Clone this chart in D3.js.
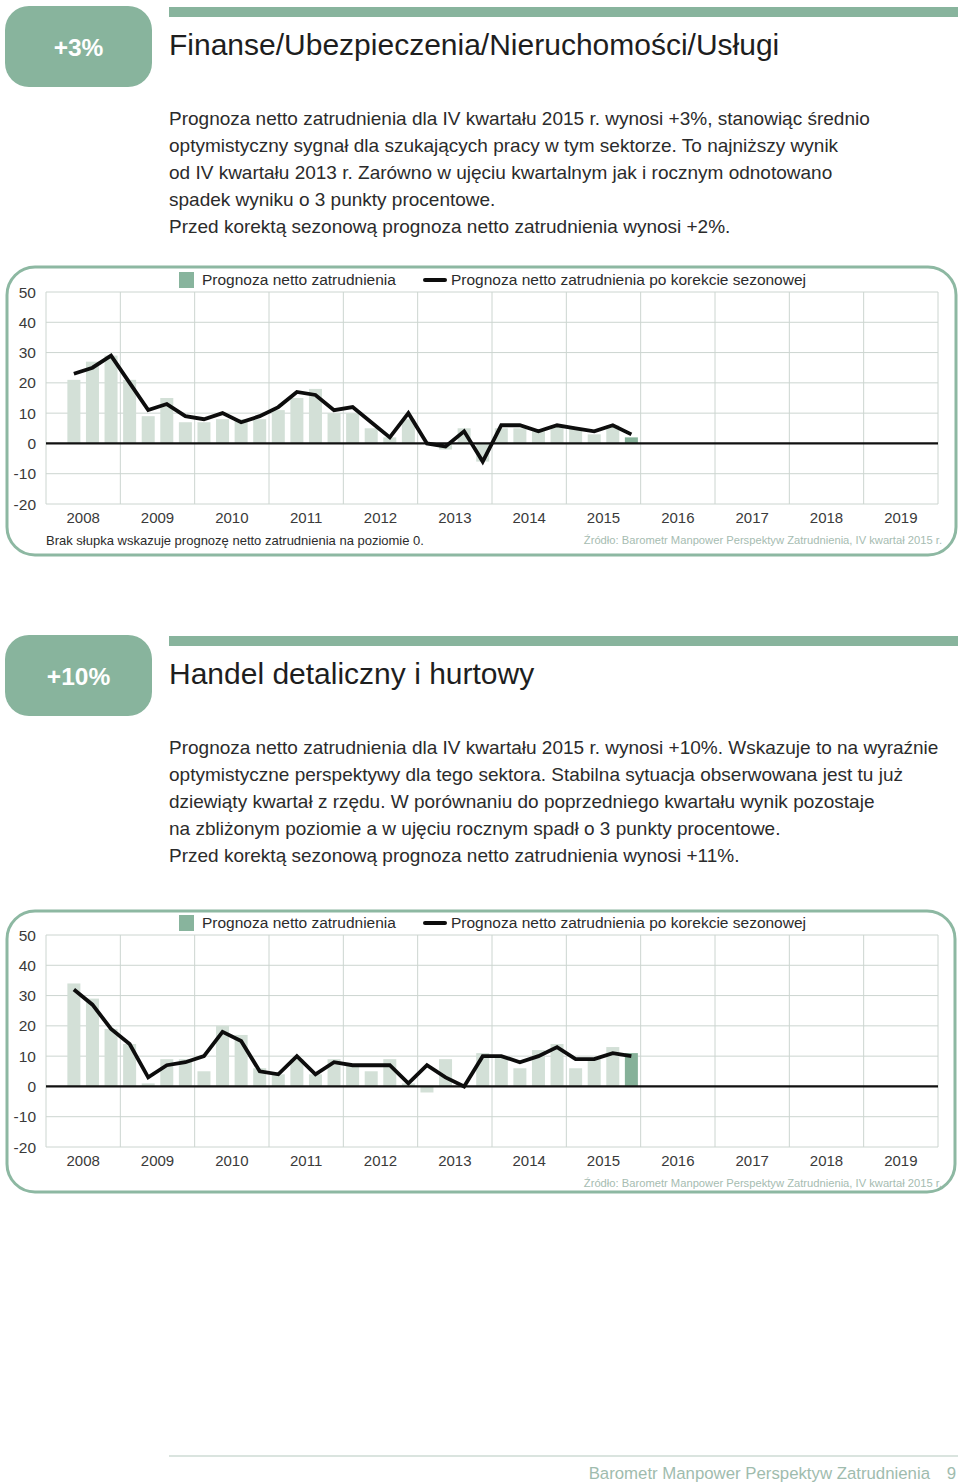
<!DOCTYPE html>
<html><head><meta charset="utf-8">
<script src="https://cdn.jsdelivr.net/npm/d3@7"></script>
<style>
body{margin:0;background:#fff;}
svg{display:block;font-family:"Liberation Sans",Arial,Helvetica,sans-serif;}
</style>
</head><body>
<svg id="page" width="960" height="1484"></svg>
<script>
// ---------- DATA ----------
const years = ["2008","2009","2010","2011","2012","2013","2014","2015","2016","2017","2018","2019"];
const quarterNames = ["I","II","III","IV"];
const firstDataQuarter = "2008-II";
const lastDataQuarter = "2015-IV";
const yTicks = [50,40,30,20,10,0,-10,-20];

// Finanse/Ubezpieczenia/Nieruchomości/Usługi (2008 II – 2015 IV)
const finBars = [21,27,29, 21,9,15,7, 7,8,8,8, 11,15,18,10, 10,5,2,8, 0,-2,5,-6, 5,5,4,6, 5,3,6,2];
const finLine = [23,25,29, 20,11,13,9, 8,10,7,9, 12,17,16,11, 12,7,2,10, 0,-1,4,-6, 6,6,4,6, 5,4,6,3];

// Handel detaliczny i hurtowy (2008 II – 2015 IV)
const tradeBars = [34,29,19, 14,1,9,9, 5,20,17,6, 4,9,4,9, 7,5,9,1, -2,9,0,11, 10,6,12,14, 6,9,13,11];
const tradeLine = [32,27,19, 14,3,7,8, 10,18,15,5, 4,10,4,8, 7,7,7,1, 7,3,0,10, 10,8,10,13, 9,9,11,10];

const legendBarLabel = "Prognoza netto zatrudnienia";
const legendLineLabel = "Prognoza netto zatrudnienia po korekcie sezonowej";
const noteText = "Brak słupka wskazuje prognozę netto zatrudnienia na poziomie 0.";
const sourceText = "Źródło: Barometr Manpower Perspektyw Zatrudnienia, IV kwartał 2015 r.";

const section1 = {
  badge: "+3%",
  title: "Finanse/Ubezpieczenia/Nieruchomości/Usługi",
  lines: [
    "Prognoza netto zatrudnienia dla IV kwartału 2015 r. wynosi +3%, stanowiąc średnio",
    "optymistyczny sygnał dla szukających pracy w tym sektorze. To najniższy wynik",
    "od IV kwartału 2013 r. Zarówno w ujęciu kwartalnym jak i rocznym odnotowano",
    "spadek wyniku o 3 punkty procentowe.",
    "Przed korektą sezonową prognoza netto zatrudnienia wynosi +2%."
  ]
};
const section2 = {
  badge: "+10%",
  title: "Handel detaliczny i hurtowy",
  lines: [
    "Prognoza netto zatrudnienia dla IV kwartału 2015 r. wynosi +10%. Wskazuje to na wyraźnie",
    "optymistyczne perspektywy dla tego sektora. Stabilna sytuacja obserwowana jest tu już",
    "dziewiąty kwartał z rzędu. W porównaniu do poprzedniego kwartału wynik pozostaje",
    "na zbliżonym poziomie a w ujęciu rocznym spadł o 3 punkty procentowe.",
    "Przed korektą sezonową prognoza netto zatrudnienia wynosi +11%."
  ]
};
const footerText = "Barometr Manpower Perspektyw Zatrudnienia";
const pageNumber = "9";

// ---------- STYLE ----------
const GREEN = "#88b49d";
const LIGHT_BAR = "#d3e0d7";
const DARK_BAR = "#86b199";
const GRID = "#ccd5d0";
const TEXT = "#2b2b2b";

const svg = d3.select("#page");

// all quarter slots 2008-I .. 2019-IV
const allQuarters = years.flatMap(y => quarterNames.map(q => y + "-" + q));
const dataQuarters = allQuarters.slice(allQuarters.indexOf(firstDataQuarter), allQuarters.indexOf(lastDataQuarter) + 1);

const plotLeft = 46, plotRight = 938;

function drawHeader(top, sec) {
  const g = svg.append("g");
  g.append("rect").attr("x", 5).attr("y", top).attr("width", 147).attr("height", 81)
    .attr("rx", 24).attr("fill", GREEN);
  g.append("text").attr("x", 78.5).attr("y", top + 50).attr("text-anchor", "middle")
    .attr("fill", "#fff").attr("font-size", 24.5).attr("font-weight", "bold").text(sec.badge);
  g.append("rect").attr("x", 169).attr("y", top + 1).attr("width", 789).attr("height", 10).attr("fill", GREEN);
  g.append("text").attr("x", 169).attr("y", top + 49).attr("fill", "#1e1e1e")
    .attr("font-size", 30).text(sec.title);
  g.selectAll("text.p").data(sec.lines).join("text").attr("class", "p")
    .attr("x", 169).attr("y", (d, i) => top + 119 + i * 27)
    .attr("fill", TEXT).attr("font-size", 19).text(d => d);
}

function drawChart(cfg) {
  const g = svg.append("g");
  // card
  g.append("rect").attr("x", cfg.card[0]).attr("y", cfg.card[1]).attr("width", cfg.card[2]).attr("height", cfg.card[3])
    .attr("rx", 28).attr("fill", "none").attr("stroke", "#8db8a2").attr("stroke-width", 3);

  const x = d3.scaleBand().domain(allQuarters).range([plotLeft, plotRight]).paddingInner(0.3).paddingOuter(0.15);
  const xYear = d3.scaleBand().domain(years).range([plotLeft, plotRight]);
  const y = d3.scaleLinear().domain([-20, 50]).range([cfg.bottom, cfg.top]);

  // horizontal gridlines
  g.append("g").selectAll("line").data(yTicks).join("line")
    .attr("x1", plotLeft).attr("x2", plotRight).attr("y1", d => y(d)).attr("y2", d => y(d))
    .attr("stroke", GRID).attr("stroke-width", 1);
  // vertical gridlines at year boundaries
  const bounds = years.map(yr => xYear(yr)).concat([plotRight]);
  g.append("g").selectAll("line").data(bounds).join("line")
    .attr("x1", d => d).attr("x2", d => d).attr("y1", y(50)).attr("y2", y(-20))
    .attr("stroke", GRID).attr("stroke-width", 1);

  // y labels
  g.append("g").selectAll("text").data(yTicks).join("text")
    .attr("x", 36).attr("y", d => y(d) + 5.5).attr("text-anchor", "end")
    .attr("font-size", 15.5).attr("fill", "#3a3a3a").text(d => d);
  // x labels
  g.append("g").selectAll("text").data(years).join("text")
    .attr("x", d => xYear(d) + xYear.bandwidth() / 2).attr("y", cfg.bottom + 19)
    .attr("text-anchor", "middle").attr("font-size", 15).attr("fill", "#3a3a3a").text(d => d);

  // bars
  const rows = dataQuarters.map((q, i) => ({q, v: cfg.bars[i], l: cfg.line[i], last: i === dataQuarters.length - 1}));
  g.append("g").selectAll("rect").data(rows.filter(d => d.v !== 0)).join("rect")
    .attr("x", d => x(d.q)).attr("width", x.bandwidth())
    .attr("y", d => y(Math.max(0, d.v))).attr("height", d => Math.abs(y(d.v) - y(0)))
    .attr("fill", d => d.last ? DARK_BAR : LIGHT_BAR);

  // zero line
  g.append("line").attr("x1", plotLeft).attr("x2", plotRight).attr("y1", y(0)).attr("y2", y(0))
    .attr("stroke", "#111").attr("stroke-width", 2.2);

  // seasonal adjusted line
  const line = d3.line().x(d => x(d.q) + x.bandwidth() / 2).y(d => y(d.l));
  g.append("path").datum(rows).attr("d", line).attr("fill", "none")
    .attr("stroke", "#0d0d0d").attr("stroke-width", 3.8).attr("stroke-linejoin", "miter");

  // legend
  const ly = cfg.top - 20;
  g.append("rect").attr("x", 179).attr("y", ly).attr("width", 15).attr("height", 16).attr("fill", GREEN);
  g.append("text").attr("x", 202).attr("y", ly + 13).attr("font-size", 15.5).attr("fill", TEXT).text(legendBarLabel);
  g.append("line").attr("x1", 425).attr("x2", 445).attr("y1", ly + 8).attr("y2", ly + 8)
    .attr("stroke", "#0d0d0d").attr("stroke-width", 4).attr("stroke-linecap", "round");
  g.append("text").attr("x", 451).attr("y", ly + 13).attr("font-size", 15.5).attr("fill", TEXT).text(legendLineLabel);

  if (cfg.note) {
    g.append("text").attr("x", 46).attr("y", cfg.bottom + 41).attr("font-size", 13).attr("fill", TEXT).text(cfg.note);
  }
  g.append("text").attr("x", 942).attr("y", cfg.bottom + 40).attr("text-anchor", "end")
    .attr("font-size", 11.2).attr("fill", "#a6bcb1").text(sourceText);
}

drawHeader(6, section1);
drawChart({top: 292, bottom: 504, card: [7, 267, 949, 288], bars: finBars, line: finLine, note: noteText});
drawHeader(635, section2);
drawChart({top: 935, bottom: 1147, card: [7, 911, 948, 281], bars: tradeBars, line: tradeLine, note: null});

// footer
svg.append("line").attr("x1", 169).attr("x2", 958).attr("y1", 1456).attr("y2", 1456)
  .attr("stroke", "#b5c9bf").attr("stroke-width", 1.2);
svg.append("text").attr("x", 930).attr("y", 1479).attr("text-anchor", "end")
  .attr("font-size", 16.8).attr("fill", "#9fbcae").text(footerText);
svg.append("text").attr("x", 956).attr("y", 1479).attr("text-anchor", "end")
  .attr("font-size", 16.8).attr("fill", "#9fbcae").text(pageNumber);
</script>
</body></html>
